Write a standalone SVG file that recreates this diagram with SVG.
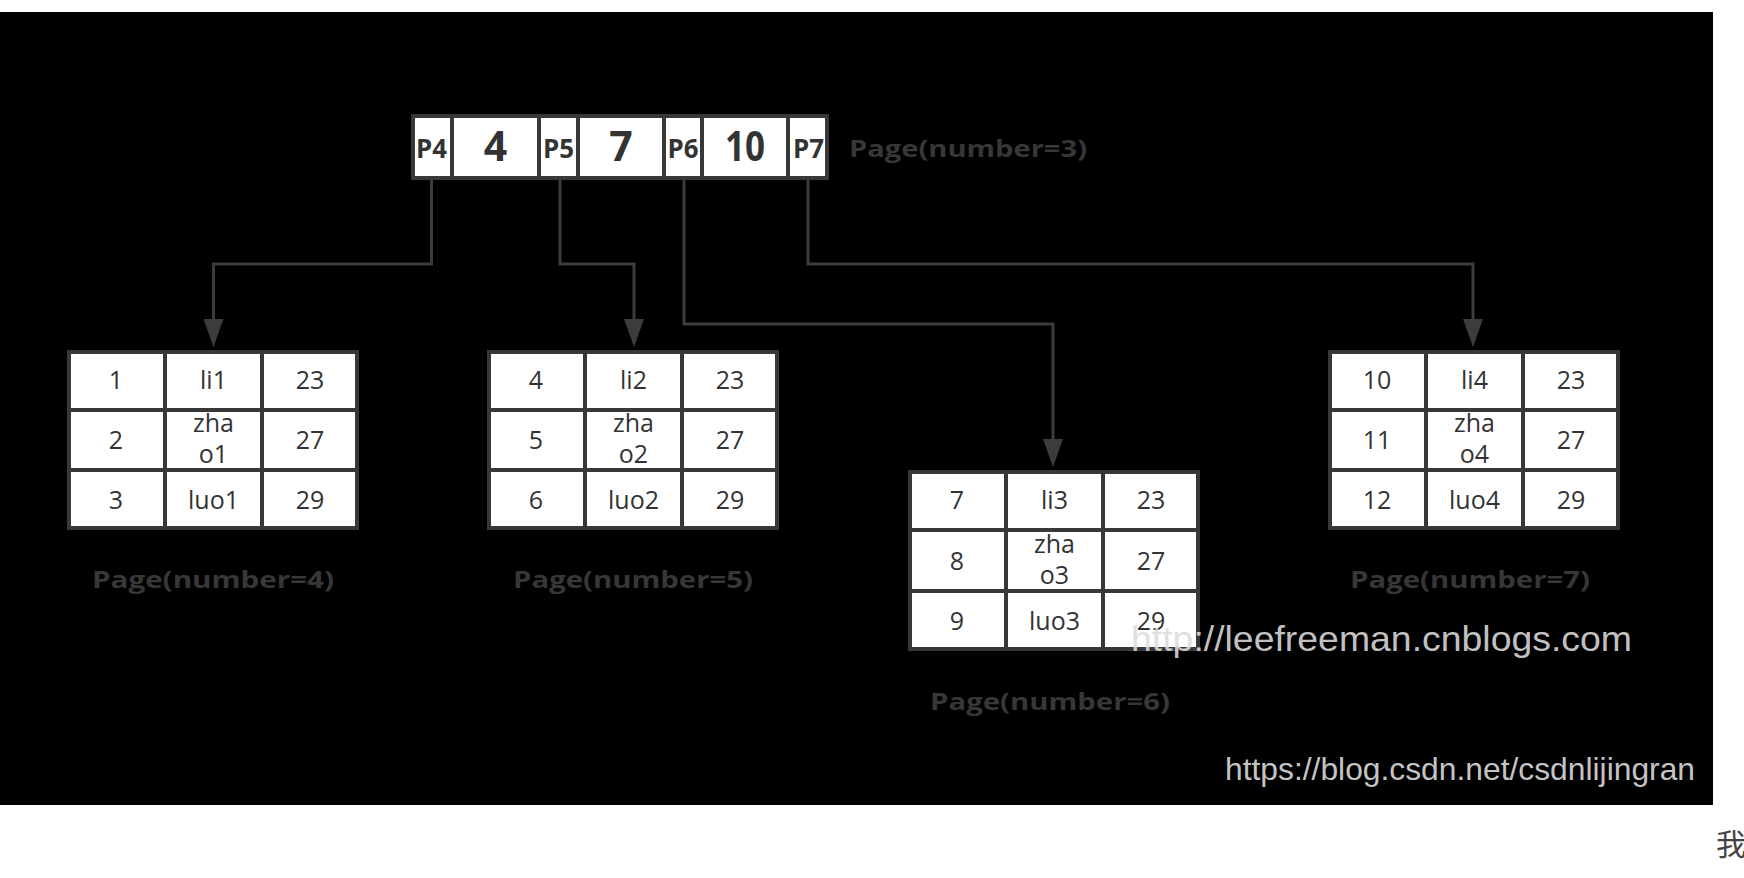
<svg xmlns="http://www.w3.org/2000/svg" width="1744" height="878" viewBox="0 0 1744 878">
<style>
.cell{fill:#ffffff;stroke:#383838;stroke-width:4}
.div{stroke:#383838;stroke-width:4}
.t{font-family:"Open Sans","Liberation Sans",sans-serif;font-size:25px;fill:#333333;text-anchor:middle}
.pk{font-family:"Open Sans","Liberation Sans",sans-serif;font-weight:bold;font-size:27px;fill:#333333;text-anchor:middle}
.key{font-family:"Open Sans","Liberation Sans",sans-serif;font-weight:bold;font-size:41px;fill:#333333;text-anchor:middle}
.lbl{font-family:"Open Sans","Liberation Sans",sans-serif;font-weight:bold;font-size:24px;fill:#373737}
.conn{fill:none;stroke:#3c3c3c;stroke-width:3}
.wm{font-family:"Liberation Sans",Arial,sans-serif}
</style>
<defs>
<marker id="arr" markerUnits="userSpaceOnUse" viewBox="0 0 28 20" refX="0" refY="10" markerWidth="28" markerHeight="20" orient="auto">
<path d="M0,0 L28,10 L0,20 Z" fill="#3c3c3c"/>
</marker>
</defs>
<rect x="0" y="0" width="1744" height="878" fill="#ffffff"/>
<rect x="0" y="12" width="1713" height="793" fill="#000000"/>

<g id="connectors">
<path class="conn" d="M431.5,180 V264 H213.5 V319" marker-end="url(#arr)"/>
<path class="conn" d="M560,180 V264 H634 V319" marker-end="url(#arr)"/>
<path class="conn" d="M684,180 V324 H1053 V439" marker-end="url(#arr)"/>
<path class="conn" d="M808,180 V264 H1473 V319" marker-end="url(#arr)"/>
</g>

<g id="page3">
<rect class="cell" x="413" y="116" width="414" height="62"/>
<line class="div" x1="452" y1="116" x2="452" y2="178"/>
<line class="div" x1="539" y1="116" x2="539" y2="178"/>
<line class="div" x1="578" y1="116" x2="578" y2="178"/>
<line class="div" x1="664" y1="116" x2="664" y2="178"/>
<line class="div" x1="702" y1="116" x2="702" y2="178"/>
<line class="div" x1="788" y1="116" x2="788" y2="178"/>
<text class="pk" x="431.5" y="158" textLength="31" lengthAdjust="spacingAndGlyphs">P4</text>
<text class="key" x="495.5" y="161">4</text>
<text class="pk" x="558.5" y="158" textLength="31" lengthAdjust="spacingAndGlyphs">P5</text>
<text class="key" x="621" y="161">7</text>
<text class="pk" x="683" y="158" textLength="31" lengthAdjust="spacingAndGlyphs">P6</text>
<text class="key" x="745" y="161" textLength="40" lengthAdjust="spacingAndGlyphs">10</text>
<text class="pk" x="808.5" y="158" textLength="31" lengthAdjust="spacingAndGlyphs">P7</text>
<text class="lbl" x="849" y="157" textLength="238" lengthAdjust="spacingAndGlyphs">Page(number=3)</text>
</g>

<g id="page4">
<rect class="cell" x="69" y="352" width="288" height="176"/>
<line class="div" x1="165" y1="352" x2="165" y2="528"/>
<line class="div" x1="262" y1="352" x2="262" y2="528"/>
<line class="div" x1="69" y1="410" x2="357" y2="410"/>
<line class="div" x1="69" y1="470" x2="357" y2="470"/>
<text class="t" x="116" y="389">1</text>
<text class="t" x="213.5" y="389">li1</text>
<text class="t" x="310" y="389">23</text>
<text class="t" x="116" y="449">2</text>
<text class="t" x="213.5" y="432">zha</text>
<text class="t" x="213.5" y="463">o1</text>
<text class="t" x="310" y="449">27</text>
<text class="t" x="116" y="509">3</text>
<text class="t" x="213.5" y="509">luo1</text>
<text class="t" x="310" y="509">29</text>
<text class="lbl" x="92" y="588" textLength="242" lengthAdjust="spacingAndGlyphs">Page(number=4)</text>
</g>

<g id="page5">
<rect class="cell" x="489" y="352" width="288" height="176"/>
<line class="div" x1="585" y1="352" x2="585" y2="528"/>
<line class="div" x1="682" y1="352" x2="682" y2="528"/>
<line class="div" x1="489" y1="410" x2="777" y2="410"/>
<line class="div" x1="489" y1="470" x2="777" y2="470"/>
<text class="t" x="536" y="389">4</text>
<text class="t" x="633.5" y="389">li2</text>
<text class="t" x="730" y="389">23</text>
<text class="t" x="536" y="449">5</text>
<text class="t" x="633.5" y="432">zha</text>
<text class="t" x="633.5" y="463">o2</text>
<text class="t" x="730" y="449">27</text>
<text class="t" x="536" y="509">6</text>
<text class="t" x="633.5" y="509">luo2</text>
<text class="t" x="730" y="509">29</text>
<text class="lbl" x="513" y="588" textLength="240" lengthAdjust="spacingAndGlyphs">Page(number=5)</text>
</g>

<g id="page6">
<rect class="cell" x="910" y="472" width="288" height="177"/>
<line class="div" x1="1006" y1="472" x2="1006" y2="649"/>
<line class="div" x1="1103" y1="472" x2="1103" y2="649"/>
<line class="div" x1="910" y1="530" x2="1198" y2="530"/>
<line class="div" x1="910" y1="591" x2="1198" y2="591"/>
<text class="t" x="957" y="509">7</text>
<text class="t" x="1054.5" y="509">li3</text>
<text class="t" x="1151" y="509">23</text>
<text class="t" x="957" y="569.5">8</text>
<text class="t" x="1054.5" y="552.5">zha</text>
<text class="t" x="1054.5" y="583.5">o3</text>
<text class="t" x="1151" y="569.5">27</text>
<text class="t" x="957" y="630">9</text>
<text class="t" x="1054.5" y="630">luo3</text>
<text class="t" x="1151" y="630">29</text>
<text class="lbl" x="930" y="710" textLength="240" lengthAdjust="spacingAndGlyphs">Page(number=6)</text>
</g>

<g id="page7">
<rect class="cell" x="1330" y="352" width="288" height="176"/>
<line class="div" x1="1426" y1="352" x2="1426" y2="528"/>
<line class="div" x1="1523" y1="352" x2="1523" y2="528"/>
<line class="div" x1="1330" y1="410" x2="1618" y2="410"/>
<line class="div" x1="1330" y1="470" x2="1618" y2="470"/>
<text class="t" x="1377" y="389">10</text>
<text class="t" x="1474.5" y="389">li4</text>
<text class="t" x="1571" y="389">23</text>
<text class="t" x="1377" y="449">11</text>
<text class="t" x="1474.5" y="432">zha</text>
<text class="t" x="1474.5" y="463">o4</text>
<text class="t" x="1571" y="449">27</text>
<text class="t" x="1377" y="509">12</text>
<text class="t" x="1474.5" y="509">luo4</text>
<text class="t" x="1571" y="509">29</text>
<text class="lbl" x="1350" y="588" textLength="240" lengthAdjust="spacingAndGlyphs">Page(number=7)</text>
</g>

<text class="wm" x="1131" y="651" font-size="35" fill="#dcdcdc" fill-opacity="0.9" textLength="501" lengthAdjust="spacingAndGlyphs">http://leefreeman.cnblogs.com</text>
<text class="wm" x="1225" y="780" font-size="32" fill="#c4c4c4" textLength="470" lengthAdjust="spacingAndGlyphs">https://blog.csdn.net/csdnlijingran</text>
<text x="1716" y="855" font-family="'Noto Sans CJK SC',sans-serif" font-size="30" fill="#444444">我</text>
</svg>
